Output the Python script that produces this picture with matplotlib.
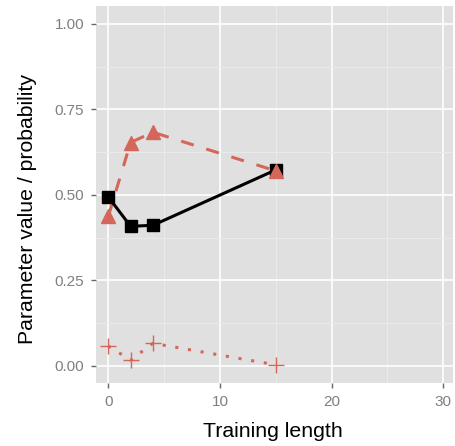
import numpy as np
import matplotlib
matplotlib.use("Agg")
import matplotlib.pyplot as plt
from matplotlib.ticker import MultipleLocator

plt.rcParams['font.family'] = ['Liberation Sans', 'DejaVu Sans']

# Data
training_length = [0, 2, 4, 15]
param_black = [0.494, 0.408, 0.411, 0.573]
param_triangle = [0.437, 0.653, 0.683, 0.570]
param_plus = [0.058, 0.017, 0.066, 0.003]

x_ticks = [0, 10, 20, 30]
y_ticks = [0.00, 0.25, 0.50, 0.75, 1.00]
y_tick_labels = ["0.00", "0.25", "0.50", "0.75", "1.00"]

red = "#D4665A"

fig = plt.figure(figsize=(4.56, 4.46), dpi=100)
ax = fig.add_axes([0.2105, 0.1413, 0.7825, 0.8452])

ax.set_facecolor("#E0E0E0")
for s in ax.spines.values():
    s.set_visible(False)

ax.set_xlim(-1.1, 30.85)
ax.set_ylim(-0.05, 1.052)

ax.set_xticks(x_ticks)
ax.set_yticks(y_ticks)
ax.set_yticklabels(y_tick_labels)
ax.xaxis.set_minor_locator(MultipleLocator(5))
ax.yaxis.set_minor_locator(MultipleLocator(0.125))
ax.grid(which="major", color="white", linewidth=1.2)
ax.grid(which="minor", color="#EBEBEB", linewidth=0.7)
ax.set_axisbelow(True)
ax.tick_params(which="major", length=3.6, width=1, color="#666666",
               labelcolor="#7F7F7F", labelsize=11, pad=4.8)
ax.tick_params(which="minor", length=0)

# lines first
ax.plot(training_length, param_plus, color=red, linestyle=(0, (1, 3.2)),
        linewidth=2.2, dash_capstyle="butt")
ax.plot(training_length, param_triangle, color=red, linestyle=(0, (4.3, 4.3)),
        linewidth=2.2, dash_capstyle="butt")
ax.plot(training_length, param_black, color="black", linestyle="-",
        linewidth=2.2)

# then points
ax.plot(training_length, param_black, color="black", linestyle="none",
        marker="s", markersize=8)
ax.plot(training_length, param_triangle, color=red, linestyle="none",
        marker="^", markersize=9.5)
ax.plot(training_length, param_plus, color=red, linestyle="none",
        marker="+", markersize=12, markeredgewidth=1.0)

fig.text(0.5983, 0.0195, "Training length", fontsize=15.3,
         ha="center", va="baseline")
fig.text(33 / 456, 0.5303, "Parameter value / probability", fontsize=15.3,
         rotation=90, rotation_mode="anchor", ha="center", va="baseline")

fig.savefig("out.png", dpi=100)
